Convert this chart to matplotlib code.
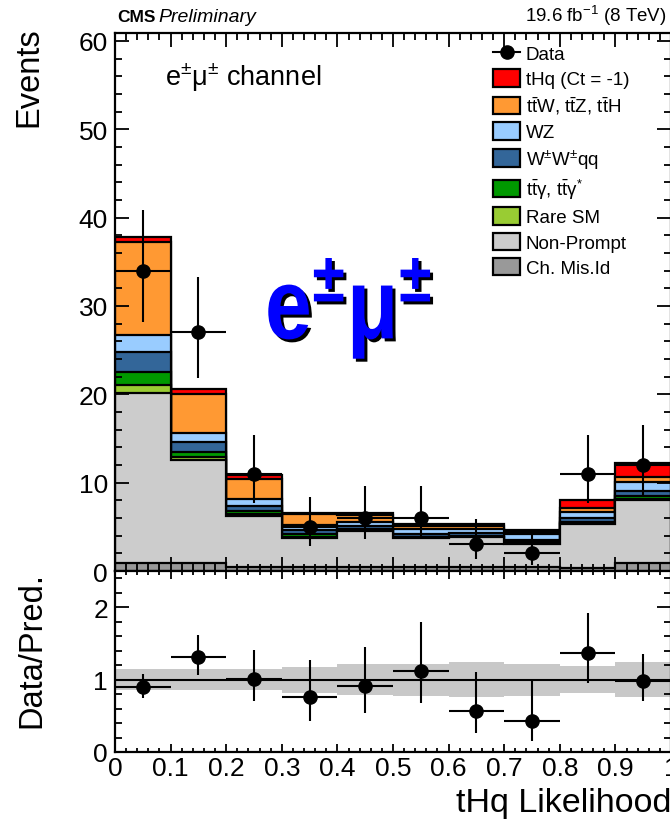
import numpy as np
import matplotlib
matplotlib.use("Agg")
import matplotlib.pyplot as plt
from matplotlib.patches import Patch, PathPatch
from matplotlib.lines import Line2D
from matplotlib.textpath import TextPath
from matplotlib.font_manager import FontProperties
from matplotlib.ticker import MultipleLocator, FixedLocator, FixedFormatter
import matplotlib.transforms as mtransforms

plt.rcParams["font.family"] = ["Liberation Sans", "DejaVu Sans"]
plt.rcParams["mathtext.fontset"] = "custom"
plt.rcParams["mathtext.rm"] = "Liberation Sans"
plt.rcParams["mathtext.it"] = "Liberation Sans:italic"
plt.rcParams["mathtext.bf"] = "Liberation Sans:bold"

# ---- binning -------------------------------------------------------------
bin_edges = np.linspace(0.0, 1.0, 11)
xtick_values = [0.0, 0.1, 0.2, 0.3, 0.4, 0.5, 0.6, 0.7, 0.8, 0.9, 1.0]
xtick_labels = ["0", "0.1", "0.2", "0.3", "0.4", "0.5", "0.6", "0.7", "0.8", "0.9", "1"]

# ---- observed events -----------------------------------------------------
data_counts = [34, 27, 11, 5, 6, 6, 3, 2, 11, 12]
data_err_lo = [5.8, 5.1, 3.3, 2.2, 2.4, 2.4, 1.6, 1.3, 3.3, 3.4]
data_err_hi = [6.9, 6.3, 4.4, 3.4, 3.6, 3.6, 2.9, 2.6, 4.4, 4.5]

# ---- expected contributions (stacked from the bottom up) ----------------
ch_misid   = [0.9, 0.9, 0.45, 0.45, 0.45, 0.45, 0.45, 0.45, 0.3, 0.9]
non_prompt = [19.3, 11.7, 5.8, 3.25, 4.05, 3.25, 3.35, 2.6, 5.05, 7.15]
rare_sm    = [0.8, 0.35, 0.25, 0.2, 0.1, 0.1, 0.1, 0.1, 0.1, 0.15]
ttgamma    = [1.5, 0.5, 0.3, 0.25, 0.15, 0.1, 0.1, 0.1, 0.15, 0.25]
wwqq       = [2.3, 1.1, 0.6, 0.45, 0.35, 0.3, 0.3, 0.3, 0.45, 0.55]
wz         = [1.9, 1.1, 0.7, 0.6, 0.4, 0.5, 0.5, 0.6, 0.6, 1.1]
ttv        = [10.5, 4.4, 2.3, 1.2, 0.8, 0.45, 0.35, 0.3, 0.5, 0.5]
thq        = [0.6, 0.6, 0.5, 0.2, 0.3, 0.2, 0.2, 0.15, 0.9, 1.6]

# relative uncertainty of the prediction (ratio band half-width)
pred_rel_unc = [0.14, 0.14, 0.14, 0.18, 0.21, 0.22, 0.24, 0.22, 0.19, 0.245]

process_names = ["Ch. Mis.Id", "Non-Prompt", "Rare SM",
                 r"$\mathrm{t\bar{t}γ}$, $\mathrm{t\bar{t}γ}^{*}$",
                 r"W$^{\pm}$W$^{\pm}$qq", "WZ",
                 r"$\mathrm{t\bar{t}W}$, $\mathrm{t\bar{t}Z}$, $\mathrm{t\bar{t}H}$",
                 "tHq (Ct = -1)"]
process_values = [ch_misid, non_prompt, rare_sm, ttgamma, wwqq, wz, ttv, thq]
process_colors = ["#999999", "#cccccc", "#99cc33", "#009900",
                  "#336699", "#99ccff", "#ff9933", "#ff0000"]

# ---- figure layout (pixel geometry of a 670x829 canvas) ------------------
W, H = 670.0, 829.0
fig = plt.figure(figsize=(W / 100, H / 100), dpi=100)
ax = fig.add_axes([115 / W, 257 / H, 556 / W, (795 - 257) / H])
axr = fig.add_axes([115 / W, 76 / H, 556 / W, (257 - 76) / H])

centers = 0.5 * (bin_edges[:-1] + bin_edges[1:])
half_width = 0.5 * np.diff(bin_edges)

# ---- main panel: stacked histogram ---------------------------------------
cumulative = np.cumsum(np.array(process_values), axis=0)
for k in range(len(process_values) - 1, -1, -1):
    ax.stairs(cumulative[k], bin_edges, fill=True,
              facecolor=process_colors[k], edgecolor="black",
              linewidth=1.6, zorder=1)

ax.errorbar(centers, data_counts, yerr=[data_err_lo, data_err_hi],
            xerr=half_width, fmt="o", color="black", ms=9.5,
            elinewidth=1.5, capsize=0, zorder=4)

ax.set_xlim(0, 1)
ax.set_ylim(0, 60.9)
ax.yaxis.set_major_locator(MultipleLocator(10))
ax.yaxis.set_minor_locator(MultipleLocator(2))
ax.xaxis.set_major_locator(FixedLocator(xtick_values))
ax.xaxis.set_minor_locator(MultipleLocator(0.02))
ax.tick_params(which="both", direction="in", top=True, right=True,
               labelbottom=False, width=1.3, labelsize=19, pad=5)
ax.tick_params(which="major", length=10)
ax.tick_params(which="minor", length=5)
ax.set_axisbelow(False)
for s in ax.spines.values():
    s.set_linewidth(1.6)
    s.set_zorder(5)

ax.set_ylabel("Events", fontsize=23.5, loc="top")
ax.yaxis.set_label_coords(-0.127, 1.012)

# legend
handles = [Line2D([], [], color="black", marker="o", ms=9.5, lw=1.5)]
labels = ["Data"]
for k in range(len(process_values) - 1, -1, -1):
    handles.append(Patch(facecolor=process_colors[k], edgecolor="black", linewidth=1.6))
    labels.append(process_names[k])
leg = ax.legend(handles, labels, loc="upper left",
                bbox_to_anchor=((493 - 115) / 556, (572 - 45) / 538),
                frameon=False, fontsize=13.5, borderpad=0, borderaxespad=0,
                handlelength=1.45, handleheight=1.05, handletextpad=0.3,
                labelspacing=0.33)

# channel label
ax.text((165 - 115) / 556, (572 - 86) / 538, r"e$^{\pm}$μ$^{\pm}$ channel",
        transform=ax.transAxes, fontsize=19.5, va="baseline", ha="left")

# large channel tag with drop shadow, slightly condensed glyphs
tag_path = TextPath((0, 0), r"$\mathbf{e^{\pm}μ^{\pm}}$", size=100,
                    prop=FontProperties(family="Liberation Sans", weight="bold"))
sx, sy = 0.84, 1.0
for dx, dy, col in [(3, -3, "black"), (0, 0, "#0000ff")]:
    tr = (mtransforms.Affine2D().scale(sx, sy).translate(265 + dx, H - 340 + dy)
          + mtransforms.Affine2D().scale(1 / W, 1 / H) + fig.transFigure)
    fig.patches.append(PathPatch(tag_path, facecolor=col, edgecolor="none",
                                 transform=tr, zorder=10))

# ---- ratio panel ---------------------------------------------------------
pred_total = cumulative[-1]
ratio = np.array(data_counts) / pred_total
ratio_lo = np.array(data_err_lo) / pred_total
ratio_hi = np.array(data_err_hi) / pred_total
unc = np.array(pred_rel_unc)

axr.stairs(1 + unc, bin_edges, baseline=1 - unc, fill=True,
           facecolor="#c8c8c8", edgecolor="none", zorder=1)
axr.axhline(1.0, color="black", lw=1.5, zorder=2)
axr.errorbar(centers, ratio, yerr=[ratio_lo, ratio_hi], xerr=half_width,
             fmt="o", color="black", ms=9.5, elinewidth=1.5, capsize=0, zorder=4)

axr.set_xlim(0, 1)
axr.set_ylim(0, 2.5)
axr.yaxis.set_major_locator(FixedLocator([0, 1, 2]))
axr.yaxis.set_minor_locator(MultipleLocator(0.2))
axr.xaxis.set_major_locator(FixedLocator(xtick_values))
axr.xaxis.set_major_formatter(FixedFormatter(xtick_labels))
axr.xaxis.set_minor_locator(MultipleLocator(0.02))
axr.tick_params(which="both", direction="in", top=True, right=True,
                width=1.3, labelsize=19)
axr.tick_params(axis="y", which="major", length=10, pad=5)
axr.tick_params(axis="y", which="minor", length=5)
axr.tick_params(axis="x", which="major", length=6, pad=3)
axr.tick_params(axis="x", which="minor", length=3)
axr.set_axisbelow(False)
for s in axr.spines.values():
    s.set_linewidth(1.6)
    s.set_zorder(5)

axr.set_ylabel("Data/Pred.", fontsize=23.5, loc="top")
axr.yaxis.set_label_coords(-0.122, 1.0)
axr.set_xlabel("tHq Likelihood", fontsize=24.5, loc="right")
axr.xaxis.set_label_coords(1.0, -0.195)

# ---- header --------------------------------------------------------------
fig.text(117 / W, 1 - 22 / H, "CMS", fontsize=12.5, fontweight="bold",
         ha="left", va="baseline")
fig.text(158 / W, 1 - 22 / H, "Preliminary", fontsize=14, fontstyle="italic",
         ha="left", va="baseline")
fig.text(667 / W, 1 - 22 / H, r"19.6 fb$^{-1}$ (8 TeV)", fontsize=13.5,
         ha="right", va="baseline")

fig.savefig("out.png", dpi=100)
